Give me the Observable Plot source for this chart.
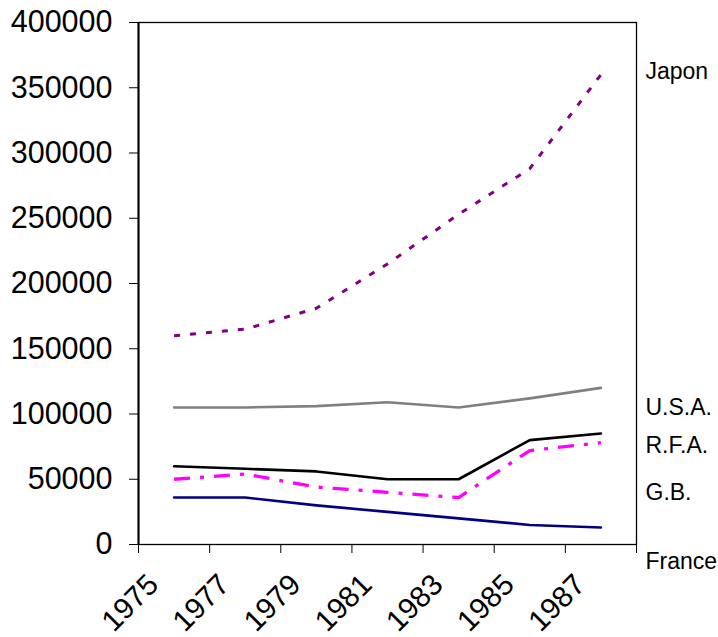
<!DOCTYPE html>
<html>
<head>
<meta charset="utf-8">
<script src="https://cdn.jsdelivr.net/npm/d3@7"></script>
<script src="https://cdn.jsdelivr.net/npm/@observablehq/plot@0.6"></script>
<style>
  html, body { margin: 0; padding: 0; background: #fff; }
  #chart svg { display: block; }
</style>
</head>
<body>
<div id="chart"></div>
<script>
// Categories (years) and series values
const years = [1975, 1977, 1979, 1981, 1983, 1985, 1987];
const categoryBounds = [1974, 1976, 1978, 1980, 1982, 1984, 1986, 1988];
const japon  = [160000, 165000, 181000, 215000, 253000, 288000, 360000];
const usa    = [105000, 105000, 106000, 109000, 105000, 112000, 120000];
const rfa    = [60000, 58000, 56000, 50000, 50000, 80000, 85000];
const gb     = [50000, 54000, 44000, 40000, 36000, 72000, 78000];
const france = [36000, 36000, 30000, 25000, 20000, 15000, 13000];
const yTicks = [0, 50000, 100000, 150000, 200000, 250000, 300000, 350000, 400000];
const seriesNames = ["Japon", "U.S.A.", "R.F.A.", "G.B.", "France"];
const labelValues = [362000, 105000, 76000, 40000, -13000];

const rows = (vals) => years.map((y, i) => ({year: y, value: vals[i]}));

const chart = Plot.plot({
  width: 718,
  height: 637,
  marginLeft: 138,
  marginRight: 82,
  marginTop: 22,
  marginBottom: 93,
  style: {fontFamily: "'Liberation Sans', Arial, sans-serif", background: "#fff", overflow: "visible"},
  x: {domain: [1974, 1988], axis: null},
  y: {domain: [0, 400000], axis: null},
  marks: [
    Plot.frame({stroke: "#000", strokeWidth: 1.3}),
    Plot.ruleX([1974], {stroke: "#000", strokeWidth: 2}),
    Plot.axisY({ticks: yTicks, tickSize: 9, tickPadding: 17, fontSize: 30.5, tickFormat: d3.format("d"), color: "#000", label: null}),
    Plot.axisX({ticks: categoryBounds, tickSize: 9, tickFormat: () => "", color: "#000", label: null}),
    Plot.text(years, {x: d => d, frameAnchor: "bottom", text: d => String(d), rotate: -45,
      textAnchor: "end", lineAnchor: "bottom", dx: -14, dy: 42, fontSize: 29.5, fill: "#000"}),
    Plot.line(rows(usa), {x: "year", y: "value", stroke: "#808080", strokeWidth: 2.6}),
    Plot.line(rows(france), {x: "year", y: "value", stroke: "#000080", strokeWidth: 2.6}),
    Plot.line(rows(rfa), {x: "year", y: "value", stroke: "#000", strokeWidth: 2.6}),
    Plot.line(rows(gb), {x: "year", y: "value", stroke: "#ff00ff", strokeWidth: 3.3, strokeDasharray: "16,10,4,10", strokeLinecap: "butt"}),
    Plot.line(rows(japon), {x: "year", y: "value", stroke: "#800080", strokeWidth: 3, strokeDasharray: "6,10", strokeLinecap: "butt"}),
    Plot.text(seriesNames, {y: (d, i) => labelValues[i], text: d => d, frameAnchor: "right",
      dx: 9, textAnchor: "start", fontSize: 23, fill: "#000", clip: false})
  ]
});
document.getElementById("chart").append(chart);
</script>
</body>
</html>
